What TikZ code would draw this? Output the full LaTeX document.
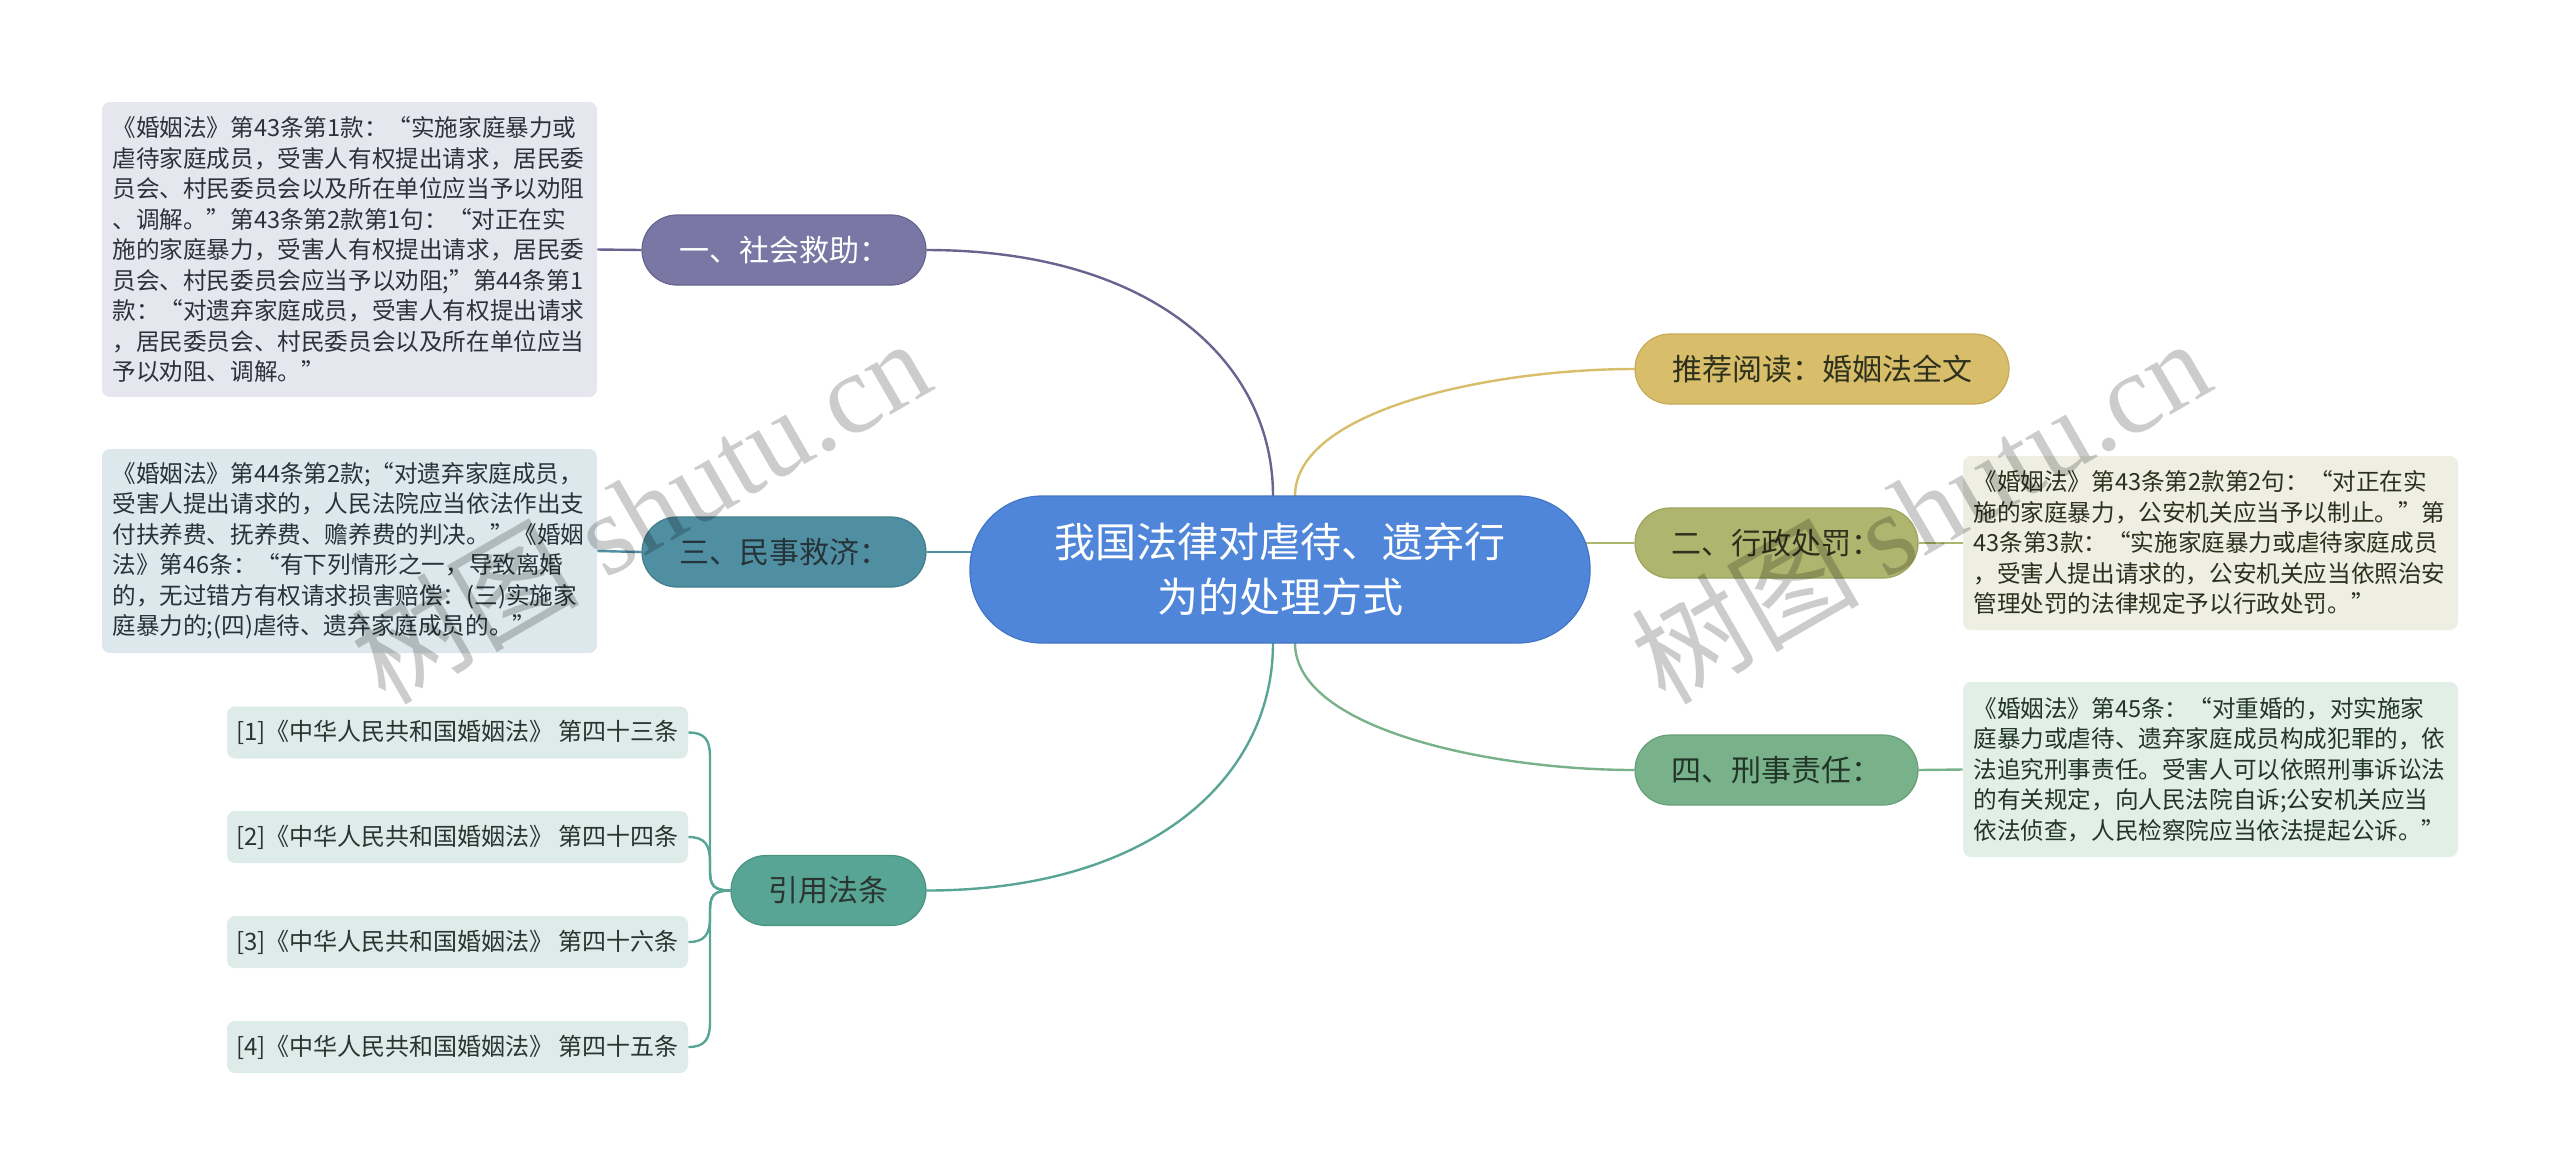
\documentclass[tikz,border=0pt]{standalone}
\usepackage{fontspec}
\setmainfont{Noto Sans CJK SC}
\newfontfamily\wmserif{Liberation Serif}
\pgfdeclarelayer{bg}
\pgfsetlayers{bg,main}
\definecolor{rootc}{HTML}{4F86D9}
\definecolor{rootb}{HTML}{4475C4}
\definecolor{c1}{HTML}{7A77A4}
\definecolor{c1b}{HTML}{67648F}
\definecolor{c3}{HTML}{4F8FA1}
\definecolor{c3b}{HTML}{417E8F}
\definecolor{cc}{HTML}{58A595}
\definecolor{ccb}{HTML}{489483}
\definecolor{cr}{HTML}{D8BD6A}
\definecolor{crb}{HTML}{C6AA56}
\definecolor{c2}{HTML}{AEB56E}
\definecolor{c2b}{HTML}{9BA35C}
\definecolor{c4}{HTML}{79B18A}
\definecolor{c4b}{HTML}{66A078}
\definecolor{b1}{HTML}{E6E6EE}
\definecolor{b3}{HTML}{DCE8EC}
\definecolor{bc}{HTML}{DDECE9}
\definecolor{b2}{HTML}{EEEFE2}
\definecolor{b4}{HTML}{E2EFE7}
\definecolor{t1}{HTML}{30303A}
\definecolor{t3}{HTML}{26343A}
\definecolor{tc}{HTML}{2A3532}
\definecolor{t2}{HTML}{2C301C}
\definecolor{t4}{HTML}{213528}
\tikzset{
  rootbox/.style={fill=rootc, draw=rootb, line width=0.6pt, rounded corners=36pt,
    minimum width=310pt, minimum height=73.5pt, inner sep=0pt, text=white, align=center,
    font=\fontsize{20.5pt}{27.5pt}\selectfont},
  topic/.style={rounded corners=17.5pt, minimum height=35pt, inner sep=0pt, line width=0.6pt,
    font=\fontsize{15pt}{18pt}\selectfont},
  notebox/.style={rounded corners=4pt, text width=237pt, inner xsep=5.25pt, inner ysep=4pt,
    align=left, font=\fontsize{11.8pt}{15.25pt}\selectfont},
  citebox/.style={rounded corners=4pt, fill=bc, text=tc, minimum width=230.5pt, minimum height=26pt,
    inner sep=0pt, font=\fontsize{12pt}{15pt}\selectfont},
  link/.style={line width=1.2pt},
  wm/.style={rotate=30, text=black, opacity=0.2, inner sep=0pt}
}
\begin{document}
\begin{tikzpicture}[x=0.5pt,y=0.5pt]
\useasboundingbox (0,0) rectangle (2560,-1175);
% central topic
\node[rootbox] (root) at (1280,-569.5) {我国法律对虐待、遗弃行\\为的处理方式};
% main topics
\node[topic, fill=c1, draw=c1b, text=white, minimum width=142pt] (n1) at (784,-250) {一、社会救助：};
\node[topic, fill=c3, draw=c3b, text=t3, minimum width=142pt] (n3) at (784,-552) {三、民事救济：};
\node[topic, fill=cc, draw=ccb, text=tc, minimum width=97.5pt] (ncite) at (828.5,-890.5) {引用法条};
\node[topic, fill=cr, draw=crb, text=t2, minimum width=187pt] (nread) at (1822,-369) {推荐阅读：婚姻法全文};
\node[topic, fill=c2, draw=c2b, text=t2, minimum width=141.5pt] (n2) at (1776.5,-543) {二、行政处罚：};
\node[topic, fill=c4, draw=c4b, text=t4, minimum width=141.5pt] (n4) at (1776.5,-770) {四、刑事责任：};
% notes
\node[notebox, fill=b1, text=t1, minimum height=147.5pt] (box1) at (349.5,-249.5) {《婚姻法》第43条第1款：“实施家庭暴力或\\虐待家庭成员，受害人有权提出请求，居民委\\员会、村民委员会以及所在单位应当予以劝阻\\、调解。”第43条第2款第1句：“对正在实\\施的家庭暴力，受害人有权提出请求，居民委\\员会、村民委员会应当予以劝阻;”第44条第1\\款：“对遗弃家庭成员，受害人有权提出请求\\，居民委员会、村民委员会以及所在单位应当\\予以劝阻、调解。”};
\node[notebox, fill=b3, text=t3, minimum height=102pt] (box3) at (349.5,-551) {《婚姻法》第44条第2款;“对遗弃家庭成员，\\受害人提出请求的，人民法院应当依法作出支\\付扶养费、抚养费、赡养费的判决。”《婚姻\\法》第46条：“有下列情形之一，导致离婚\\的，无过错方有权请求损害赔偿：(三)实施家\\庭暴力的;(四)虐待、遗弃家庭成员的。”};
\node[notebox, fill=b2, text=t2, minimum height=87pt] (box2) at (2210.5,-543) {《婚姻法》第43条第2款第2句：“对正在实\\施的家庭暴力，公安机关应当予以制止。”第\\43条第3款：“实施家庭暴力或虐待家庭成员\\，受害人提出请求的，公安机关应当依照治安\\管理处罚的法律规定予以行政处罚。”};
\node[notebox, fill=b4, text=t4, minimum height=87.5pt] (box4) at (2210.5,-769.5) {《婚姻法》第45条：“对重婚的，对实施家\\庭暴力或虐待、遗弃家庭成员构成犯罪的，依\\法追究刑事责任。受害人可以依照刑事诉讼法\\的有关规定，向人民法院自诉;公安机关应当\\依法侦查，人民检察院应当依法提起公诉。”};
% citations
\node[citebox] (ct1) at (457.5,-732.5) {[1]《中华人民共和国婚姻法》 第四十三条};
\node[citebox] (ct2) at (457.5,-837) {[2]《中华人民共和国婚姻法》 第四十四条};
\node[citebox] (ct3) at (457.5,-942) {[3]《中华人民共和国婚姻法》 第四十六条};
\node[citebox] (ct4) at (457.5,-1047) {[4]《中华人民共和国婚姻法》 第四十五条};
% connectors
\coordinate (r1) at (1273,-496);
\coordinate (rR) at (1295,-496);
\coordinate (rC) at (1273,-643);
\coordinate (r4) at (1295,-643);
\coordinate (j3) at (985,-552);
\coordinate (j2) at (1575,-543);
\begin{pgfonlayer}{bg}
\draw[link, draw=c1b] (r1) .. controls (1273,-360) and (1150,-250) .. (n1.east);
\draw[link, draw=c3] (j3) -- (n3.east);
\draw[link, draw=cc] (rC) .. controls (1273,-779) and (1150,-890.5) .. (ncite.east);
\draw[link, draw=cr] (rR) .. controls (1295,-410) and (1490,-369) .. (nread.west);
\draw[link, draw=c2] (j2) -- (n2.west);
\draw[link, draw=c4] (r4) .. controls (1295,-729) and (1490,-770) .. (n4.west);
\draw[link, draw=c1b] (n1.west) -- (box1.east);
\draw[link, draw=c3] (n3.west) -- (box3.east);
\draw[link, draw=c2] (n2.east) -- (box2.west);
\draw[link, draw=c4] (n4.east) -- (box4.west);
\draw[link, draw=cc] (ncite.west) .. controls (713,-890.5) and (710,-885) .. (710,-870) -- (710,-757) .. controls (710,-740) and (705,-732.5) .. (ct1.east);
\draw[link, draw=cc] (ncite.west) .. controls (713,-890.5) and (710,-885) .. (710,-870) -- (710,-862) .. controls (710,-845) and (705,-837) .. (ct2.east);
\draw[link, draw=cc] (ncite.west) .. controls (713,-890.5) and (710,-896) .. (710,-911) -- (710,-917) .. controls (710,-934) and (705,-942) .. (ct3.east);
\draw[link, draw=cc] (ncite.west) .. controls (713,-890.5) and (710,-896) .. (710,-911) -- (710,-1022) .. controls (710,-1039) and (705,-1047) .. (ct4.east);
\end{pgfonlayer}
% watermarks
\node[wm] (wmA) at (640,-510) {\fontsize{57pt}{57pt}\selectfont 树图 {\wmserif shutu.cn}};
\node[wm] (wmB) at (1920,-510) {\fontsize{57pt}{57pt}\selectfont 树图 {\wmserif shutu.cn}};
\end{tikzpicture}
\end{document}
